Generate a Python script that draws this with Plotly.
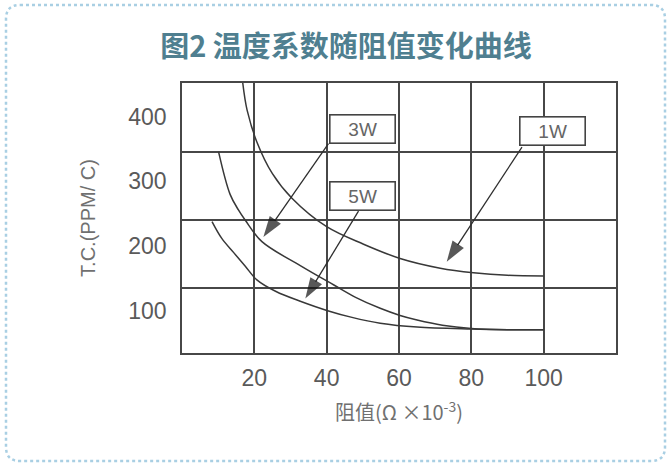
import plotly.graph_objects as go

# ---- data ----
r_1w = [16.8, 18, 20.7, 25, 30.4, 40, 50.2, 60.3, 71.4, 80.6, 90, 100]
tc_1w = [452, 410, 361, 312, 274, 230, 203, 181, 166, 159, 155, 154]

r_3w = [10.1, 13.3, 15.6, 17.5, 22.1, 32.7, 42, 48, 54.8, 60.3, 65, 72, 80, 90, 100]
tc_3w = [346, 280, 256, 240, 207, 170, 140, 121, 104, 93, 86, 78, 73, 71, 71]

r_5w = [8.3, 11, 14.3, 17.5, 20.7, 26, 32.7, 40.5, 47, 54.8, 65, 80, 90, 100]
tc_5w = [238, 212, 190, 169, 148, 130, 115, 100, 90, 81, 75, 72, 71, 71]

x_ticks = [20, 40, 60, 80, 100]
y_ticks = [100, 200, 300, 400]
y_grid = [135, 240, 345]

labels = ["3W", "5W", "1W"]
# arrow tips (on the curves) and label-box anchors, in data units
tip_r = [22.5, 34.1, 73.2]
tip_tc = [214, 119, 176]
tail_r = [40.5, 48.8, 94.0]
tail_tc = [358.5, 254, 353]
box_r = [49.8, 49.8, 102.5]
box_tc = [381.7, 278, 377.3]

LINE = "#383838"
GRID = "#474747"

fig = go.Figure()
for xs, ys, name in [(r_1w, tc_1w, "1W"), (r_3w, tc_3w, "3W"), (r_5w, tc_5w, "5W")]:
    fig.add_trace(go.Scatter(x=xs, y=ys, mode="lines", name=name,
                             line=dict(color=LINE, width=1.5, shape="spline", smoothing=1.0),
                             hoverinfo="x+y+name"))

# leader arrows from the label boxes to the curves
for lab, tx, ty, ax, ay in zip(labels, tip_r, tip_tc, tail_r, tail_tc):
    fig.add_trace(go.Scatter(x=[ax, tx], y=[ay, ty], mode="lines+markers", name=lab + " label",
                             line=dict(color="#2e2e2e", width=1.3),
                             marker=dict(symbol=["circle", "arrow"], size=[0, 22],
                                         angleref="previous", color="#111111",
                                         line=dict(width=0)),
                             hoverinfo="skip"))

annotations = []
for lab, bx, by in zip(labels, box_r, box_tc):
    annotations.append(dict(x=bx, y=by, xref="x", yref="y", text=lab, showarrow=False,
                            font=dict(family="Liberation Sans, Arial", size=19, color="#666666"),
                            bgcolor="white", bordercolor="#444444", borderwidth=1.6,
                            width=62, height=25, borderpad=1, align="center", valign="middle"))

# rounded dotted frame around the whole picture (paper coords relative to plot area)
L, T, W, H = 182, 83, 434, 270
def px(xp):
    return (xp - L) / W
def py(yp):
    return (T + H - yp) / H
x0, x1, y0, y1, r = 6, 665, 5, 461, 14
path = (f"M {px(x0 + r)},{py(y0)} L {px(x1 - r)},{py(y0)} Q {px(x1)},{py(y0)} {px(x1)},{py(y0 + r)} "
        f"L {px(x1)},{py(y1 - r)} Q {px(x1)},{py(y1)} {px(x1 - r)},{py(y1)} "
        f"L {px(x0 + r)},{py(y1)} Q {px(x0)},{py(y1)} {px(x0)},{py(y1 - r)} "
        f"L {px(x0)},{py(y0 + r)} Q {px(x0)},{py(y0)} {px(x0 + r)},{py(y0)} Z")

fig.update_layout(
    width=671, height=466,
    margin=dict(l=L, r=671 - L - W, t=T, b=466 - T - H),
    paper_bgcolor="white", plot_bgcolor="white",
    showlegend=False,
    title=dict(text="<b>图2 温度系数随阻值变化曲线</b>", x=346 / 671, xanchor="center",
               y=1 - 47 / 466, yanchor="middle", yref="container",
               font=dict(family="Noto Sans CJK SC", size=29, color="#4f7f90")),
    annotations=annotations,
    shapes=[dict(type="path", xref="paper", yref="paper", path=path,
                 line=dict(color="#a9cfe3", width=2.5, dash="dot"), fillcolor="rgba(0,0,0,0)",
                 layer="below")],
    font=dict(family="Liberation Sans, Arial", color="#5c5c5c"),
)

fig.update_xaxes(range=[0, 120], tickmode="array", tickvals=x_ticks,
                 showgrid=True, gridcolor=GRID, gridwidth=1.7,
                 showline=True, mirror=True, linecolor=GRID, linewidth=1.7,
                 zeroline=False, ticks="", ticklabelstandoff=4,
                 tickfont=dict(family="Liberation Sans, Arial", size=23, color="#5a5a5a"),
                 title=dict(text="阻值(Ω ×10<sup>-3</sup>)", standoff=16,
                            font=dict(family="Noto Sans CJK SC", size=20, color="#707070")))
fig.update_yaxes(range=[35, 452], tickmode="array", tickvals=y_ticks,
                 showgrid=False,
                 minor=dict(tickmode="array", tickvals=y_grid, showgrid=True,
                            gridcolor=GRID, gridwidth=1.7, ticks=""),
                 showline=True, mirror=True, linecolor=GRID, linewidth=1.7,
                 zeroline=False, ticks="", ticklabelstandoff=9,
                 tickfont=dict(family="Liberation Sans, Arial", size=23, color="#5a5a5a"),
                 title=dict(text="T.C.(PPM/ C)", standoff=27,
                            font=dict(family="Liberation Sans, Arial", size=20, color="#707070")))

fig.write_html("out.html", config={"displayModeBar": False},
               post_script="document.body.style.margin='0';")
